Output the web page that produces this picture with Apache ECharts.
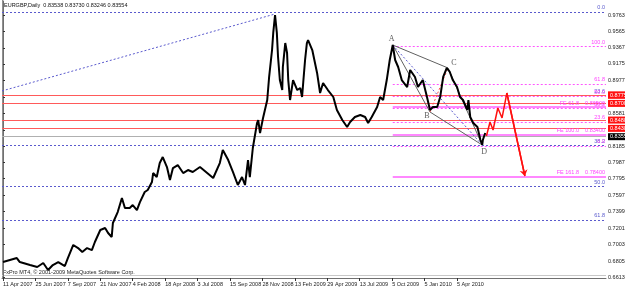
<!DOCTYPE html>
<html>
<head>
<meta charset="utf-8">
<script src="https://cdn.jsdelivr.net/npm/echarts@6/dist/echarts.min.js"></script>
<style>
html, body { margin: 0; padding: 0; background: #fff; }
#main { width: 625px; height: 292px; }
</style>
</head>
<body>
<div id="main"></div>
<script>
// bar index of each date label on the time axis
var dateBars = [0, 54, 108, 162, 216, 270, 324, 378, 432, 486, 540, 594, 648, 702, 756];
var dateLabels = ['11 Apr 2007', '25 Jun 2007', '7 Sep 2007', '21 Nov 2007', '4 Feb 2008',
  '18 Apr 2008', '3 Jul 2008', '15 Sep 2008', '28 Nov 2008', '13 Feb 2009',
  '29 Apr 2009', '13 Jul 2009', '5 Oct 2009', '5 Jan 2010', '5 Apr 2010'];

// price scale labels
var priceTicks = [0.97630, 0.95650, 0.93670, 0.91750, 0.89770, 0.87790, 0.85810, 0.83830,
  0.81850, 0.79870, 0.77950, 0.75970, 0.73990, 0.72010, 0.70030, 0.68050, 0.66130];

// EURGBP daily
var priceBars = [0, 3, 23, 28, 45, 57, 67, 75, 83, 92, 103, 108, 117, 125, 132, 140, 148, 153, 162, 170,
  175, 181, 183, 191, 198, 203, 211, 216, 223, 228, 236, 241, 248, 250, 256, 261, 266, 273, 278, 283,
  291, 300, 308, 316, 328, 340, 350, 361, 366, 375, 383, 391, 398, 403, 408, 411, 416, 423, 425, 428,
  433, 440, 443, 448, 450, 453, 456, 458, 461, 465, 466, 470, 473, 475, 478, 483, 490, 495, 498, 500,
  503, 506, 508, 515, 523, 528, 533, 541, 550, 556, 565, 573, 578, 586, 595, 603, 608, 614, 623, 628,
  633, 639, 644, 649, 653, 658, 664, 673, 678, 686, 691, 699, 706, 711, 716, 723, 728, 733, 739, 744,
  749, 756, 761, 766, 773, 775, 778, 783, 790, 795, 798, 799, 803];
var priceVals = [0.6793, 0.6817, 0.6841, 0.6793, 0.6757, 0.6733, 0.6781, 0.6697, 0.6757, 0.6793,
  0.6745, 0.6841, 0.6998, 0.6961, 0.6913, 0.6961, 0.6937, 0.7034, 0.7178, 0.7202,
  0.7142, 0.7094, 0.7262, 0.7394, 0.7563, 0.7442, 0.7442, 0.7478, 0.7418, 0.7514,
  0.7635, 0.7659, 0.7755, 0.7863, 0.7815, 0.7983, 0.8055, 0.7935, 0.7779, 0.7923,
  0.7959, 0.7863, 0.7899, 0.7875, 0.7935, 0.7863, 0.7803, 0.7983, 0.8140, 0.8019,
  0.7875, 0.7719, 0.7815, 0.7719, 0.8019, 0.7815, 0.8164, 0.8464, 0.8500, 0.8344,
  0.8525, 0.8741, 0.9006, 0.9342, 0.9547, 0.9763, 0.9547, 0.9258, 0.8981, 0.8861,
  0.9138, 0.9426, 0.9306, 0.8981, 0.8741, 0.8981, 0.8861, 0.8885, 0.8777, 0.8957,
  0.9222, 0.9426, 0.9462, 0.9342, 0.9066, 0.8825, 0.8945, 0.8861, 0.8777, 0.8621,
  0.8500, 0.8416, 0.8476, 0.8537, 0.8561, 0.8537, 0.8464, 0.8537, 0.8657, 0.8777,
  0.8741, 0.8981, 0.9222, 0.9402, 0.9222, 0.9138, 0.8981, 0.8897, 0.9102, 0.9018,
  0.8897, 0.8981, 0.8777, 0.8621, 0.8657, 0.8657, 0.8777, 0.9018, 0.9126, 0.9078,
  0.8981, 0.8897, 0.8777, 0.8741, 0.8621, 0.8741, 0.8537, 0.8464, 0.8416, 0.8260,
  0.8200, 0.8260, 0.8344];

// long term fibo retracement (blue dotted)
var fibNames = ['0.0', '23.6', '38.2', '50.0', '61.8'];
var fibLevels = [0.9775, 0.8814, 0.8213, 0.7732, 0.7251];
var fibTrend = [[-1.67, 0.8850], [453, 0.9775]];

// A-D fibo retracement (magenta dotted)
var fib2Names = ['100.0', '61.8', '50.0', '38.2', '23.6', '0.0'];
var fib2Levels = [0.9390, 0.8934, 0.8789, 0.8645, 0.8477, 0.8189];

// fibo expansion
var feNames = ['FE 61.8    0.86500', 'FE 100.0    0.83400', 'FE 161.8    0.78400'];
var feLevels = [0.8657, 0.8321, 0.7816];

// red horizontal levels
var redLevels = [0.8826, 0.8777, 0.8681, 0.8477, 0.8429];
var redLabels = ['0.88250', '0.87750', '0.87000', '0.84800', '0.84300'];

var bidLevel = 0.8335;
var bidLabel = '0.83554';

// harmonic pattern points
var patNames = ['A', 'B', 'C', 'D'];
var patBars = [649, 711, 741, 798];
var patVals = [0.9402, 0.8597, 0.9126, 0.8200];

// projected path
var projBars = [805, 811, 816, 824, 831, 839, 869];
var projVals = [0.8308, 0.8476, 0.8380, 0.8645, 0.8525, 0.8825, 0.7827];

var X_MIN = -1.67, X_MAX = 1004.1;
var FONT = 'Liberation Sans, Arial, sans-serif';

function pairs(xs, ys) {
  var out = [];
  for (var i = 0; i < xs.length; i++) out.push([xs[i], ys[i]]);
  return out;
}
function seg(p, q, style) {
  return [{ coord: p, lineStyle: style }, { coord: q }];
}

var chart = echarts.init(document.getElementById('main'));

var pat = pairs(patBars, patVals);
var proj = pairs(projBars, projVals);
// letter offsets round the pattern points
var patOffsets = [[-1, -6], [-3, 4], [6, -5], [2, 7]];

var option = {
  animation: false,
  grid: { left: 2, right: 19, top: 1, bottom: 14, outerBoundsMode: 'none', containLabel: false },
  xAxis: {
    type: 'value', min: X_MIN, max: X_MAX,
    axisLine: { lineStyle: { color: '#707070' } },
    axisTick: { customValues: dateBars, length: 3, lineStyle: { color: '#333' } },
    axisLabel: {
      customValues: dateBars,
      formatter: function (v) { return dateLabels[dateBars.indexOf(v)]; },
      align: 'left', fontSize: 5.5, margin: 3, color: '#222', fontFamily: FONT,
      showMinLabel: true, hideOverlap: false
    },
    splitLine: { show: false }
  },
  yAxis: {
    type: 'value', position: 'right', min: 0.6601, max: 0.99313,
    axisLine: { show: true, lineStyle: { color: '#707070' } },
    axisTick: { show: true, customValues: priceTicks, length: 2, lineStyle: { color: '#333' } },
    axisLabel: {
      customValues: priceTicks,
      formatter: function (v) { return v.toFixed(5); },
      fontSize: 5.5, margin: 2, color: '#222', fontFamily: FONT
    },
    splitLine: { show: false }
  },
  graphic: [
    { type: 'text', left: 4, top: 2, style: { text: 'EURGBP,Daily  0.83538 0.83730 0.83246 0.83554', fontSize: 5.5, fill: '#111', fontFamily: FONT } },
    { type: 'text', left: 3, top: 269, style: { text: 'FxPro MT4, \u00a9 2001-2009 MetaQuotes Software Corp.', fontSize: 5.5, fill: '#222', fontFamily: FONT } },
    { type: 'line', shape: { x1: 2.5, y1: 0, x2: 2.5, y2: 278 }, style: { stroke: '#909090', lineWidth: 1 } },
    { type: 'line', shape: { x1: 2, y1: 275.5, x2: 606, y2: 275.5 }, style: { stroke: '#c8c8c8', lineWidth: 1 } }
  ],
  series: [
    {
      name: 'fibo', type: 'line', data: [],
      markLine: {
        silent: true, symbol: 'none', animation: false,
        lineStyle: { color: '#5a5acd', type: [2, 2], width: 1 },
        label: { position: 'insideEndTop', fontSize: 5.5, color: '#5a5acd', distance: 1, fontFamily: FONT },
        data: fibLevels.map(function (v, i) {
          return { yAxis: v, label: { formatter: fibNames[i] } };
        }).concat([[{ coord: fibTrend[0], label: { show: false } }, { coord: fibTrend[1] }]])
      }
    },
    {
      name: 'fibo2', type: 'line', data: [],
      markLine: {
        silent: true, symbol: 'none', animation: false,
        lineStyle: { color: '#ff55ff', type: [2, 2], width: 1 },
        label: { position: 'insideEndTop', fontSize: 5.5, color: '#ff44ff', distance: 1, fontFamily: FONT },
        data: fib2Levels.map(function (v, i) {
          return [{ coord: [patBars[0], v], label: { formatter: fib2Names[i] } }, { coord: [X_MAX, v] }];
        })
      }
    },
    {
      name: 'fe', type: 'line', data: [],
      markLine: {
        silent: true, symbol: 'none', animation: false,
        lineStyle: { color: '#ff88ff', type: 'solid', width: 2 },
        label: { position: 'insideEndTop', fontSize: 5.5, color: '#ff44ff', distance: 1, fontFamily: FONT },
        data: feLevels.map(function (v, i) {
          return [{ coord: [patBars[0], v], label: { formatter: feNames[i] } }, { coord: [X_MAX, v] }];
        })
      }
    },
    {
      name: 'levels', type: 'line', data: [],
      markLine: {
        silent: true, symbol: 'none', animation: false,
        lineStyle: { color: '#ff5a5a', type: 'solid', width: 1.2 },
        label: {
          position: 'end', distance: 2, fontSize: 5.5, color: '#fff', backgroundColor: '#ff1010',
          padding: [1, 2, 0, 2], fontFamily: FONT
        },
        data: redLevels.map(function (v, i) {
          return { yAxis: v, label: { formatter: redLabels[i] } };
        }).concat([{
          yAxis: bidLevel,
          lineStyle: { color: '#b0b0b0', width: 1 },
          label: { formatter: bidLabel, backgroundColor: '#000' }
        }])
      }
    },
    {
      name: 'price', type: 'line', data: pairs(priceBars, priceVals),
      symbol: 'none', lineStyle: { color: '#000', width: 2 }, z: 5
    },
    {
      name: 'pattern', type: 'line', data: [],
      markLine: {
        silent: true, symbol: 'none', animation: false, label: { show: false },
        lineStyle: { color: '#606060', type: 'solid', width: 1 },
        data: [
          seg(pat[0], pat[1]),
          seg(pat[0], pat[2]),
          seg(pat[1], pat[3]),
          seg(pat[2], pat[3]),
          seg(pat[0], pat[3], { color: '#5a5acd', type: [2, 2] }),
          seg(pat[1], pat[2], { color: '#ff5050', type: [2, 2] })
        ]
      }
    },
    {
      name: 'pattern labels', type: 'scatter', symbolSize: 0, z: 6,
      data: pat.map(function (p, i) {
        return { value: p, label: { offset: patOffsets[i] } };
      }),
      label: {
        show: true, position: 'inside', fontSize: 8, color: '#333', fontFamily: 'Liberation Serif, serif',
        formatter: function (p) { return patNames[p.dataIndex]; }
      }
    },
    {
      name: 'projection', type: 'line', data: proj, symbol: 'none', z: 6,
      lineStyle: { color: '#ff1010', width: 1.5 },
      markLine: {
        silent: true, animation: false, symbol: ['none', 'arrow'], symbolSize: 6,
        label: { show: false },
        lineStyle: { color: '#ff1010', type: 'solid', width: 1.5 },
        data: [seg(proj[proj.length - 2], proj[proj.length - 1])]
      }
    }
  ]
};

chart.setOption(option);
</script>
</body>
</html>
